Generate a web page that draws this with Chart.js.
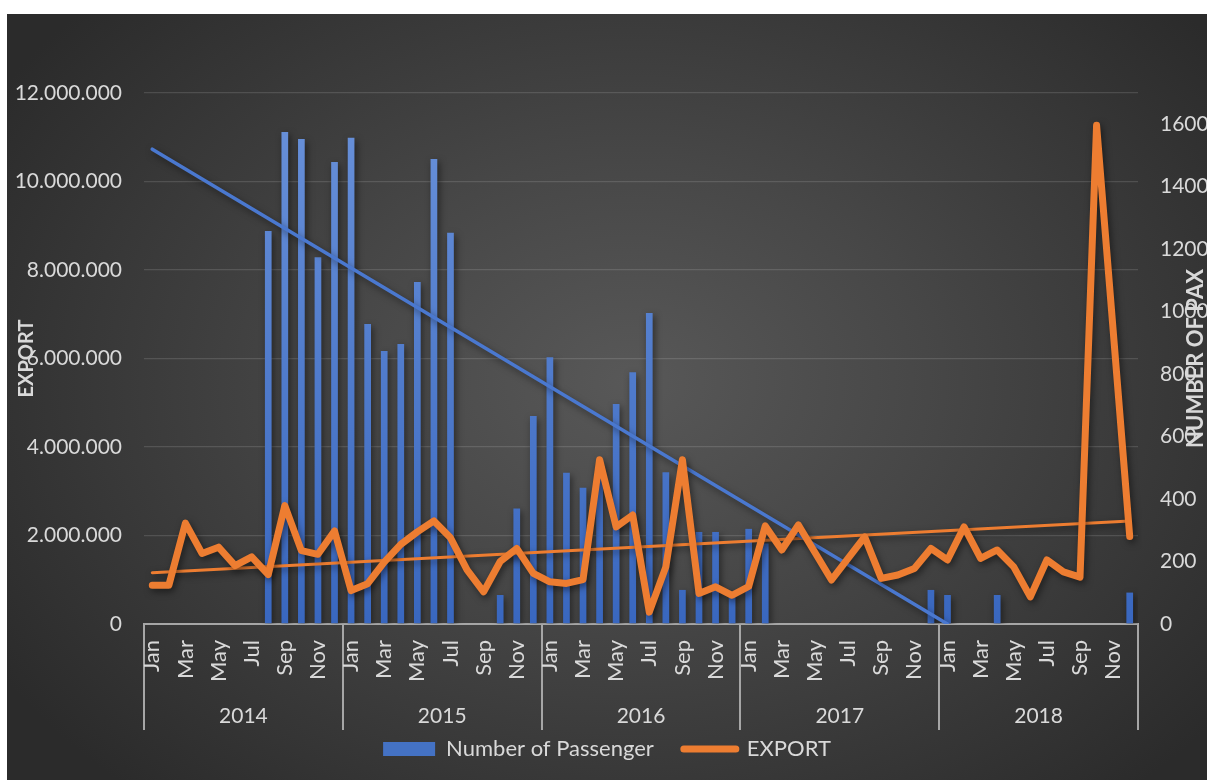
<!DOCTYPE html>
<html>
<head>
<meta charset="utf-8">
<script src="https://cdn.jsdelivr.net/npm/chart.js@4.4.1/dist/chart.umd.min.js"></script>
<style>
  html, body { margin: 0; background: #fff; }
  #panel {
    position: absolute; left: 7px; top: 14px; width: 1200px; height: 766px;
    background: radial-gradient(ellipse 62% 72% at 52% 48%, #585858 0%, #474747 40%, #2b2b2b 100%);
  }
</style>
</head>
<body>
<div id="panel"><canvas id="chart" width="1200" height="766"></canvas></div>
<script>
const years = ['2014', '2015', '2016', '2017', '2018'];
const monthNames = ['Jan', 'Feb', 'Mar', 'Apr', 'May', 'Jun', 'Jul', 'Aug', 'Sep', 'Oct', 'Nov', 'Dec'];

// Number of Passenger (left axis), Jan 2014 .. Dec 2018
const passengers = [
  null, null, null, null, null, null, null, 8880000, 11120000, 10960000, 8290000, 10440000,
  10990000, 6780000, 6170000, 6330000, 7730000, 10510000, 8840000, null, null, 655000, 2610000, 4700000,
  6030000, 3420000, 3080000, 3600000, 4970000, 5690000, 7030000, 3430000, 770000, 2080000, 2080000, 700000,
  2150000, 1820000, null, null, null, null, null, null, null, null, null, 770000,
  655000, null, null, 655000, null, null, null, null, null, null, null, 710000
];

// EXPORT (right axis)
const exportValues = [
  124, 124, 323, 226, 246, 187, 215, 158, 379, 235, 223, 298,
  107, 129, 198, 255, 295, 330, 276, 173, 103, 200, 242, 162,
  135, 130, 142, 526, 311, 349, 38, 183, 526, 98, 119, 92,
  120, 314, 237, 317, 229, 141, 210, 279, 146, 157, 178, 242,
  205, 311, 210, 237, 183, 87, 205, 167, 150, 1597, 940, 280
];

// linear trendline end points: [month index, value]
const passengerTrendEnds = [[0, 10730000], [48, 0]];
const exportTrendEnds = [[0, 164], [59, 330]];

const categories = [];
years.forEach(y => monthNames.forEach(m => categories.push(m)));

function sparse(ends) {
  const arr = categories.map(() => null);
  ends.forEach(([i, v]) => { arr[i] = v; });
  return arr;
}

const textColor = '#d9d9d9';
const axisColor = '#a6a6a6';
Chart.defaults.font.family = 'Lato';

const shadow = {
  id: 'shadow',
  beforeDatasetDraw(chart) {
    const c = chart.ctx;
    c.save();
    c.shadowColor = 'rgba(0,0,0,0.5)';
    c.shadowBlur = 7;
    c.shadowOffsetX = 2;
    c.shadowOffsetY = 3;
  },
  afterDatasetDraw(chart) { chart.ctx.restore(); }
};

const rightTitle = {
  id: 'rightTitle',
  afterDraw(chart) {
    const s = chart.scales.y1, a = chart.chartArea, c = chart.ctx;
    c.save();
    c.translate(s.right - 11, (a.top + a.bottom) / 2);
    c.rotate(-Math.PI / 2);
    c.font = 'bold 22px Lato';
    c.fillStyle = textColor;
    c.textAlign = 'center';
    c.textBaseline = 'middle';
    c.fillText('NUMBER OF PAX', 0, 0);
    c.restore();
  }
};

function barFill(ctx) {
  const area = ctx.chart.chartArea;
  if (!area) return '#4472C4';
  const g = ctx.chart.ctx.createLinearGradient(0, area.bottom, 0, area.top);
  g.addColorStop(0, '#3967bf');
  g.addColorStop(1, '#6a92da');
  return g;
}

new Chart(document.getElementById('chart'), {
  type: 'bar',
  data: {
    labels: categories,
    datasets: [
      {
        label: 'Number of Passenger',
        data: passengers,
        backgroundColor: barFill,
        xAxisID: 'x', yAxisID: 'y',
        barPercentage: 0.9, categoryPercentage: 0.45,
        order: 4
      },
      {
        type: 'line',
        label: 'EXPORT',
        data: exportValues,
        borderColor: '#ED7D31', backgroundColor: '#ED7D31',
        borderWidth: 7, pointRadius: 0, tension: 0,
        borderJoinStyle: 'round', borderCapStyle: 'round',
        xAxisID: 'x', yAxisID: 'y1',
        order: 1
      },
      {
        type: 'line',
        label: 'Trend Passenger',
        data: sparse(passengerTrendEnds),
        borderColor: '#4a78cf', borderWidth: 3.5, pointRadius: 0, spanGaps: true,
        borderCapStyle: 'round',
        xAxisID: 'x', yAxisID: 'y',
        order: 2
      },
      {
        type: 'line',
        label: 'Trend Export',
        data: sparse(exportTrendEnds),
        borderColor: '#ED7D31', borderWidth: 3, pointRadius: 0, spanGaps: true,
        borderCapStyle: 'round',
        xAxisID: 'x', yAxisID: 'y1',
        order: 3
      }
    ]
  },
  options: {
    responsive: false,
    animation: false,
    layout: { padding: { top: 79, bottom: 16, left: 0, right: 0 } },
    plugins: {
      tooltip: { enabled: false },
      legend: {
        position: 'bottom',
        maxHeight: 56,
        labels: {
          color: textColor,
          font: { size: 22 },
          usePointStyle: true,
          pointStyleWidth: 52,
          boxHeight: 14,
          padding: 30,
          generateLabels(chart) {
            const items = Chart.defaults.plugins.legend.labels.generateLabels(chart)
              .filter(it => it.datasetIndex < 2);
            items.forEach(it => {
              if (it.datasetIndex === 0) {
                it.pointStyle = 'rect'; it.fillStyle = '#4472C4'; it.strokeStyle = '#4472C4'; it.lineWidth = 0;
              } else {
                it.pointStyle = 'line'; it.strokeStyle = '#ED7D31'; it.lineWidth = 7; it.lineCap = 'round';
              }
            });
            return items.sort((a, b) => a.datasetIndex - b.datasetIndex);
          }
        }
      }
    },
    scales: {
      x: {
        type: 'category',
        position: 'bottom',
        offset: true,
        grid: {
          offset: true,
          drawOnChartArea: false,
          drawTicks: true,
          tickLength: 106,
          lineWidth: 2,
          color: ctx => (ctx.index === undefined || ctx.index % 12 === 0) ? axisColor : 'rgba(0,0,0,0)'
        },
        border: { display: true, color: axisColor, width: 2 },
        ticks: {
          autoSkip: false, maxRotation: 90, minRotation: 90,
          padding: -90,
          color: textColor, font: { size: 22 },
          callback(v, i) { return i % 2 === 0 ? this.getLabelForValue(v) : ''; }
        },
        afterFit(s) { s.height = 56; }
      },
      x2: {
        type: 'category',
        position: 'bottom',
        labels: years,
        offset: true,
        grid: { display: false, drawTicks: false, tickLength: 0 },
        border: { display: false },
        // mirror keeps the year labels from being clipped to this short box
        ticks: { color: textColor, font: { size: 21 }, padding: -49, mirror: true },
        afterFit(s) { s.height = 28; }
      },
      y: {
        position: 'left',
        min: 0, max: 12000000,
        ticks: {
          stepSize: 2000000, padding: 22, color: textColor, font: { size: 21 },
          callback: v => String(v).replace(/\B(?=(\d{3})+(?!\d))/g, '.')
        },
        grid: { color: 'rgba(255,255,255,0.13)', lineWidth: 1.3, drawTicks: false },
        border: { display: false },
        title: {
          display: true, text: 'EXPORT', color: textColor,
          font: { size: 20, weight: 'bold' }, padding: { top: 8, bottom: 0 }
        },
        afterFit(s) { s.width = 137; }
      },
      y1: {
        position: 'right',
        min: 0, max: 1700,
        ticks: { stepSize: 200, padding: 22, color: textColor, font: { size: 21 }, callback: v => String(v) },
        afterBuildTicks(s) { s.ticks = s.ticks.filter(t => t.value % 200 === 0); },
        grid: { drawOnChartArea: false, drawTicks: false },
        border: { display: false },
        afterFit(s) { s.width = 69; }
      }
    }
  },
  plugins: [shadow, rightTitle]
});
</script>
</body>
</html>
